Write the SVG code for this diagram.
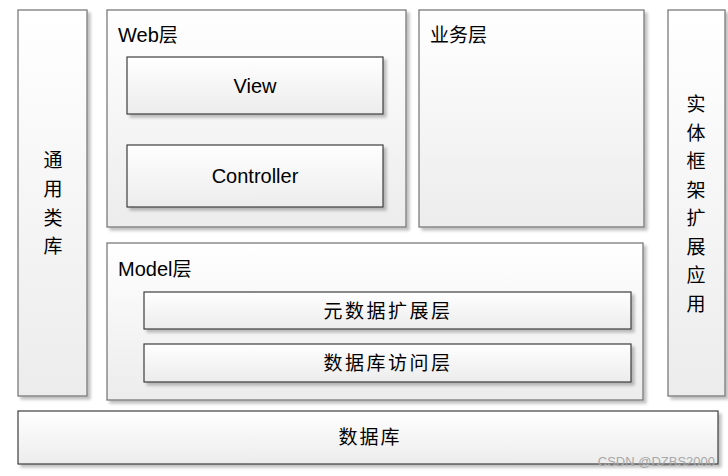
<svg xmlns="http://www.w3.org/2000/svg" width="728" height="476" viewBox="0 0 728 476">
<defs>
<linearGradient id="g" x1="0" y1="0" x2="0" y2="1">
<stop offset="0" stop-color="#ffffff"/>
<stop offset="1" stop-color="#ececec"/>
</linearGradient>
<filter id="sh" x="-10%" y="-10%" width="130%" height="130%">
<feGaussianBlur in="SourceAlpha" stdDeviation="1.5"/>
<feOffset dx="3" dy="3" result="b"/>
<feComponentTransfer><feFuncA type="linear" slope="0.25"/></feComponentTransfer>
<feMerge><feMergeNode/><feMergeNode in="SourceGraphic"/></feMerge>
</filter>
</defs>
<style>
.outer{fill:url(#g);stroke:#7a7a7a;stroke-width:1.3;filter:url(#sh)}
.inner{fill:url(#g);stroke:#3c3c3c;stroke-width:1.2;filter:url(#sh)}
.lat{font-family:"Liberation Sans","Noto Sans CJK SC",sans-serif;font-size:20px;fill:#000}
.cjk{font-family:"Noto Sans CJK SC",sans-serif;font-size:19px;fill:#000}
.mid{text-anchor:middle}
</style>
<rect width="728" height="476" fill="#ffffff"/>
<g id="common-lib">
<rect class="outer" x="18" y="10" width="69" height="386"/>
<text class="cjk mid" x="53" y="167">通</text>
<text class="cjk mid" x="53" y="196">用</text>
<text class="cjk mid" x="53" y="225">类</text>
<text class="cjk mid" x="53" y="253">库</text>
</g>
<g id="web-layer">
<rect class="outer" x="107" y="10" width="299" height="217"/>
<text class="lat" x="118" y="42">Web<tspan class="cjk">层</tspan></text>
</g>
<g id="view">
<rect class="inner" x="127" y="57" width="256" height="57"/>
<text class="lat mid" x="255" y="93">View</text>
</g>
<g id="controller">
<rect class="inner" x="127" y="145" width="256" height="62"/>
<text class="lat mid" x="255" y="183">Controller</text>
</g>
<g id="business-layer">
<rect class="outer" x="419" y="10" width="225" height="217"/>
<text class="cjk" x="430" y="42">业务层</text>
</g>
<g id="entity-ext">
<rect class="outer" x="668" y="10" width="57" height="386"/>
<text class="cjk mid" x="696" y="111">实</text>
<text class="cjk mid" x="696" y="140">体</text>
<text class="cjk mid" x="696" y="168">框</text>
<text class="cjk mid" x="696" y="197">架</text>
<text class="cjk mid" x="696" y="225">扩</text>
<text class="cjk mid" x="696" y="254">展</text>
<text class="cjk mid" x="696" y="282">应</text>
<text class="cjk mid" x="696" y="311">用</text>
</g>
<g id="model-layer">
<rect class="outer" x="107" y="243" width="536" height="157"/>
<text class="lat" x="118" y="276">Model<tspan class="cjk">层</tspan></text>
</g>
<g id="meta-ext">
<rect class="inner" x="144" y="292" width="487" height="37"/>
<text class="cjk mid" x="388" y="318" letter-spacing="2.5">元数据扩展层</text>
</g>
<g id="db-access">
<rect class="inner" x="144" y="344" width="487" height="38"/>
<text class="cjk mid" x="388" y="370" letter-spacing="2.5">数据库访问层</text>
</g>
<g id="database">
<rect class="inner" x="18" y="411" width="700" height="53"/>
<text class="cjk mid" x="370" y="444" letter-spacing="2">数据库</text>
</g>
<g id="connectors"></g>
<text x="715" y="466" text-anchor="end" font-family="Liberation Sans,sans-serif" font-size="13" fill="#a8a8a8">CSDN @DZBS2000</text>
</svg>
